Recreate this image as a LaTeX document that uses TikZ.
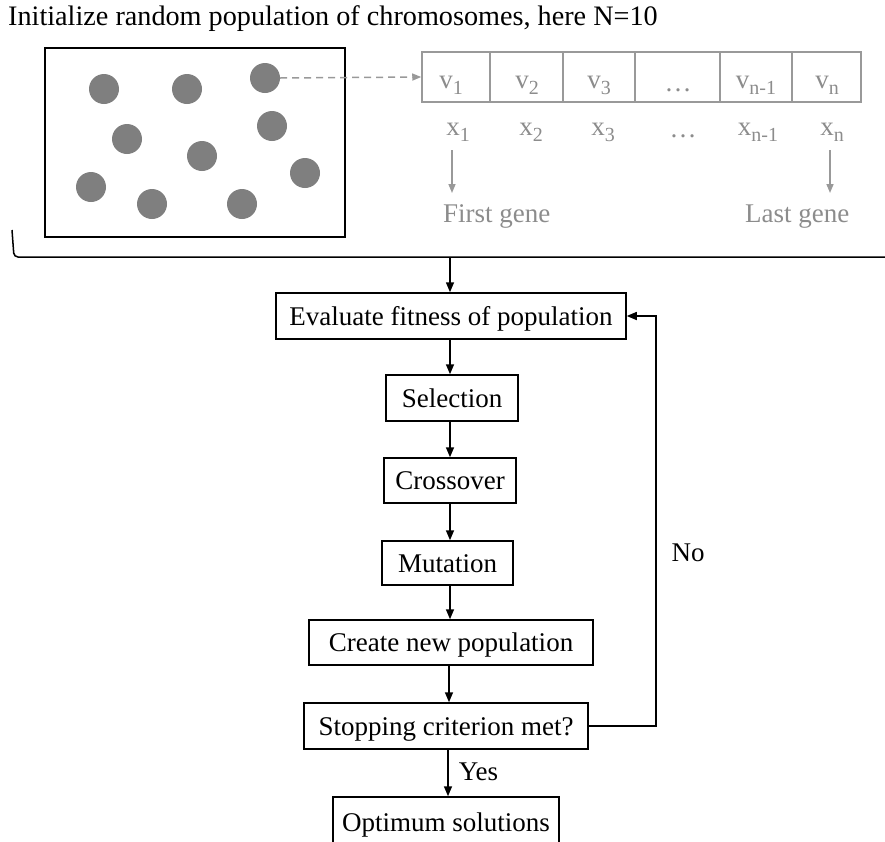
\documentclass[tikz,border=0pt]{standalone}
\usepackage{fontspec}
\setmainfont{Liberation Serif}
\usetikzlibrary{arrows.meta}
\definecolor{gtxt}{HTML}{8C8C8C}
\definecolor{gline}{HTML}{999999}
\definecolor{dotc}{HTML}{7F7F7F}
\newcommand{\ft}{\fontsize{27}{32}\selectfont}
\newcommand{\sbs}[1]{\raisebox{-6pt}{\fontsize{20}{24}\selectfont #1}}
\begin{document}
\begin{tikzpicture}[x=1pt,y=-1pt,
  every node/.style={font=\ft},
  fbox/.style={draw, line width=1.5pt, inner sep=0pt, text height=18pt, text depth=0pt},
  cell/.style={draw=gline, line width=1.5pt, inner sep=0pt, minimum height=50pt},
  dotn/.style={circle, fill=dotc, minimum size=30pt, inner sep=0pt},
  glab/.style={text=gtxt, inner sep=0pt, anchor=base},
  arr/.style={line width=1.5pt, -{Triangle[length=10pt,width=8pt]}},
  garr/.style={gline, line width=1.5pt, -{Triangle[length=9pt,width=7pt]}}]
\clip (0,0) rectangle (885,841);
\useasboundingbox (0,0) rectangle (885,841);

% title
\node[anchor=base west, inner sep=0pt, font=\fontsize{28.2}{33}\selectfont] (title) at (8,25) {Initialize random population of chromosomes, here N=10};

% population box
\node[draw, line width=1.5pt, minimum width=300pt, minimum height=189pt, inner sep=0pt] (pop) at (195,142.5) {};
\node[dotn] (c1) at (104,89) {};
\node[dotn] (c2) at (187,89) {};
\node[dotn] (c3) at (265,78) {};
\node[dotn] (c4) at (127,139) {};
\node[dotn] (c5) at (272,126) {};
\node[dotn] (c6) at (202,156) {};
\node[dotn] (c7) at (91,187) {};
\node[dotn] (c8) at (305,173) {};
\node[dotn] (c9) at (152,204) {};
\node[dotn] (c10) at (242,204) {};

% chromosome cells
\node[cell, minimum width=68pt] (v1) at (456,77) {};
\node[cell, minimum width=73pt] (v2) at (526.5,77) {};
\node[cell, minimum width=72pt] (v3) at (599,77) {};
\node[cell, minimum width=85pt] (v4) at (677.5,77) {};
\node[cell, minimum width=72pt] (v5) at (756,77) {};
\node[cell, minimum width=69pt] (v6) at (826.5,77) {};

\draw[gline, line width=1.5pt, dash pattern=on 7pt off 5pt, -{Triangle[length=9pt,width=7pt]}] (c3.east) -- (v1.west);

\node[glab] (tv1) at (451,88) {v\sbs{1}};
\node[glab] (tv2) at (527,88) {v\sbs{2}};
\node[glab] (tv3) at (599,88) {v\sbs{3}};
\node[glab] (tv4) at (678,91) {\ldots};
\node[glab] (tv5) at (756,88) {v\sbs{n-1}};
\node[glab] (tv6) at (827,88) {v\sbs{n}};

\node[glab] (x1) at (458,135) {x\sbs{1}};
\node[glab] (x2) at (531,135) {x\sbs{2}};
\node[glab] (x3) at (603,135) {x\sbs{3}};
\node[glab] (x4) at (683,137) {\ldots};
\node[glab] (x5) at (758,135) {x\sbs{n-1}};
\node[glab] (x6) at (832,135) {x\sbs{n}};

\node[text=gtxt, inner sep=0pt, anchor=base west] (fg) at (443,222) {First gene};
\node[text=gtxt, inner sep=0pt, anchor=base west] (lg) at (745,222) {Last gene};
\coordinate (a1s) at (452,150);
\coordinate (a1e) at (452,193);
\coordinate (a6s) at (830,150);
\coordinate (a6e) at (830,193);
\draw[garr] (a1s) -- (a1e);
\draw[garr] (a6s) -- (a6e);

% bracket
\coordinate (bk1) at (12,230);
\coordinate (bk2) at (14,257);
\coordinate (bk3) at (890,257);
\coordinate (bkm) at (450,257);
\draw[line width=1.5pt, rounded corners=4pt] (bk1) -- (bk2) -- (bk3);

% flowchart
\node[fbox, minimum width=350pt, minimum height=46pt] (eval) at (451,316) {Evaluate fitness of population};
\node[fbox, minimum width=132pt, minimum height=46pt] (sel) at (452,398) {Selection};
\node[fbox, minimum width=132pt, minimum height=45pt] (cross) at (450,480.5) {Crossover};
\node[fbox, minimum width=131pt, minimum height=44pt] (mut) at (447.5,563) {Mutation};
\node[fbox, minimum width=284pt, minimum height=45pt] (create) at (451,642.5) {Create new population};
\node[fbox, minimum width=284pt, minimum height=46pt] (stop) at (446,726) {Stopping criterion met?};
\node[fbox, minimum width=226pt, minimum height=50pt] (opt) at (446,822) {Optimum solutions};

\coordinate (lp) at (656,316);
\draw[arr] (bkm) -- (bkm |- eval.north);
\draw[arr] (eval.south -| 450,0) -- (sel.north -| 450,0);
\draw[arr] (sel.south -| 450,0) -- (cross.north -| 450,0);
\draw[arr] (cross.south -| 450,0) -- (mut.north -| 450,0);
\draw[arr] (mut.south -| 450,0) -- (create.north -| 450,0);
\draw[arr] (create.south -| 449,0) -- (stop.north -| 449,0);
\draw[arr] (stop.south -| 448,0) -- node[right, inner sep=0pt, xshift=10pt, yshift=1pt] (yes) {Yes} (opt.north -| 448,0);
\draw[arr] (stop.east) -| (lp) -- (eval.east);
\node[anchor=center, inner sep=0pt] (no) at (688,553) {No};
\end{tikzpicture}
\end{document}
